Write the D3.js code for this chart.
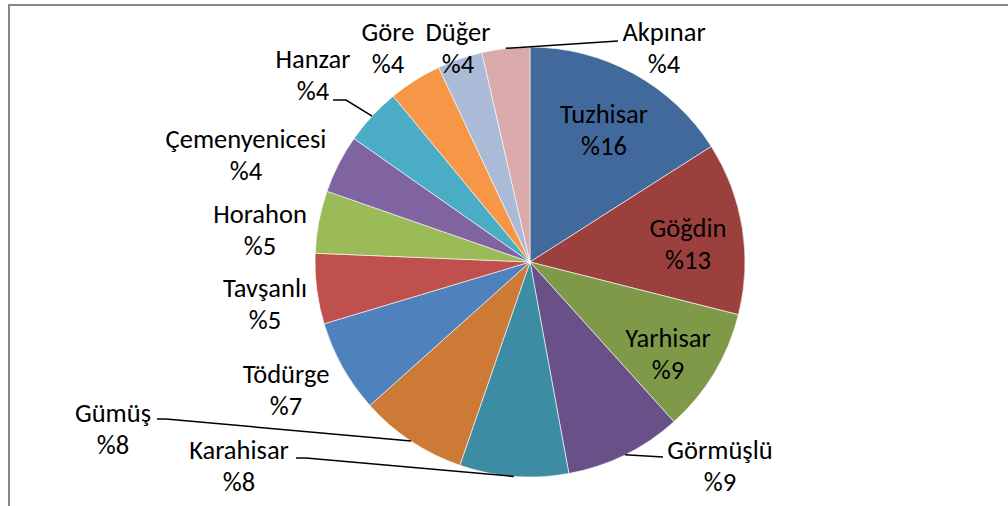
<!DOCTYPE html>
<html><head><meta charset="utf-8">
<script src="https://cdn.jsdelivr.net/npm/d3@7"></script>
<style>html,body{margin:0;padding:0;background:#fff;}svg{display:block;}</style>
</head><body>
<svg id="c" width="1008" height="506"></svg>
<script>
const categories = ["Tuzhisar","Göğdin","Yarhisar","Görmüşlü","Karahisar","Gümüş","Tödürge","Tavşanlı","Horahon","Çemenyenicesi","Hanzar","Göre","Düğer","Akpınar"];
const values = [16.0,13.0,9.4,8.8,8.2,8.1,7.0,5.3,4.7,4.4,4.3,4.0,3.4,3.6];
const percentLabels = ["%16","%13","%9","%9","%8","%8","%7","%5","%5","%4","%4","%4","%4","%4"];
const colors = ["#41699B","#9C403D","#7E9A49","#6A5088","#3C8CA3","#CD7A37","#4F81BD","#C0504D","#9BBB59","#8064A2","#4BACC6","#F79646","#AABAD7","#D9AAA9"];
// label layout: [centerX, firstBaselineY]
const labelPos = [[604,123],[688,237],[668,347],[720,459],[239,459],[113,422],[286,383],[265,297],[260,223],[246,148],[313,68],[388,41],[458,41],[664,41]];
// leader anchor near label (null = none): [x,y, elbow dx]
const leaders = [null,null,null,[663,457,0],[296,458,10],[157,419,9],null,null,null,null,[333,100,13],null,null,[618,41,0]];

const svg = d3.select("#c");
const cx = 530, cy = 262, R = 215;
svg.append("rect").attr("x",9).attr("y",5).attr("width",1030).attr("height",540)
  .attr("fill","none").attr("stroke","#878787").attr("stroke-width",2);

const pie = d3.pie().sort(null).value(d=>d)(values);
const arc = d3.arc().innerRadius(0).outerRadius(R);
const g = svg.append("g").attr("transform",`translate(${cx},${cy})`);
g.selectAll("path").data(pie).join("path")
  .attr("d",arc).attr("fill",(d,i)=>colors[i])
  .attr("stroke","#fff").attr("stroke-width",0.6);

// leaders
pie.forEach((d,i)=>{
  const L = leaders[i]; if(!L) return;
  const a = (d.startAngle+d.endAngle)/2;
  const px = cx + R*Math.sin(a), py = cy - R*Math.cos(a);
  const pts = [[L[0],L[1]]];
  if (L[2]) pts.push([L[0]+L[2],L[1]]);
  pts.push([px,py]);
  svg.append("path").attr("d",d3.line()(pts)).attr("fill","none")
    .attr("stroke","#000").attr("stroke-width",1.5);
});

const font = "Carlito, Calibri, Lato, sans-serif";
categories.forEach((c,i)=>{
  const t = svg.append("text").attr("text-anchor","middle")
    .attr("font-family",font).attr("font-size",26.5).attr("fill","#000");
  t.append("tspan").attr("x",labelPos[i][0]).attr("y",labelPos[i][1]).text(c);
  t.append("tspan").attr("x",labelPos[i][0]).attr("y",labelPos[i][1]+32).text(percentLabels[i]);
});
</script>
</body></html>
